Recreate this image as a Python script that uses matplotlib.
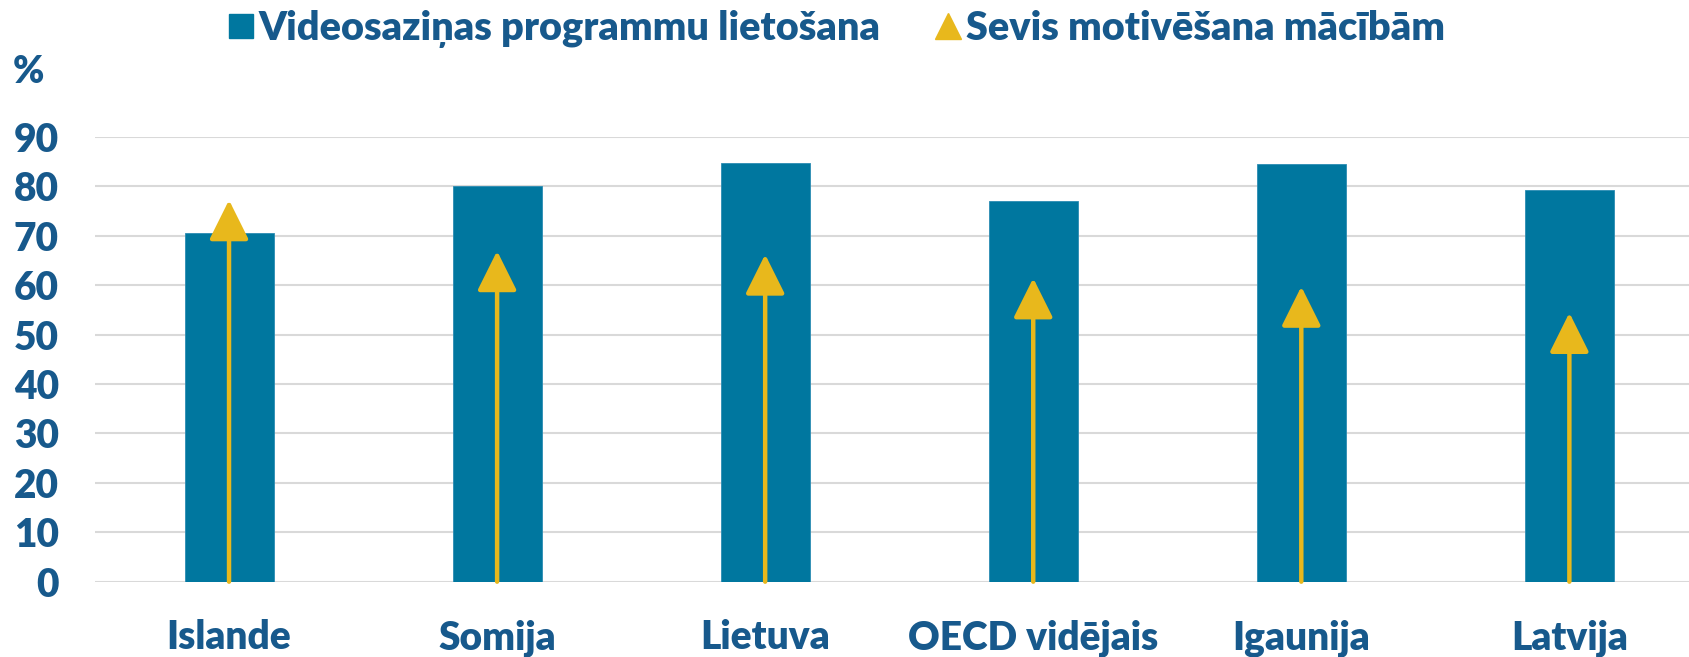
import matplotlib
matplotlib.use("Agg")
import matplotlib.pyplot as plt
from matplotlib.lines import Line2D

# data
countries = ["Islande", "Somija", "Lietuva", "OECD vidējais", "Igaunija", "Latvija"]
video_apps = [70.6, 80.0, 84.7, 77.0, 84.5, 79.3]
self_motivation = [77.2, 66.9, 66.2, 61.4, 59.7, 54.4]
yticks = [0, 10, 20, 30, 40, 50, 60, 70, 80, 90]

BAR = "#00779F"
ARROW = "#E8B81C"
TEXT = "#17598C"
GRID = "#D9D9D9"
WEIGHT = "heavy"

plt.rcParams["font.family"] = ["Lato", "DejaVu Sans"]
plt.rcParams["font.weight"] = WEIGHT

fig = plt.figure(figsize=(16.9, 6.57), dpi=100)
ax = fig.add_axes([95 / 1690, 1 - 581.7 / 657, 1 - 95 / 1690, (581.7 - 136.8) / 657])

x = list(range(len(countries)))
ax.bar(x, video_apps, width=0.332, color=BAR, edgecolor="#2B8CB3", linewidth=0.6, zorder=2)

for xi, v in zip(x, self_motivation):
    ax.annotate("", xy=(xi, v), xytext=(xi, 0),
                arrowprops=dict(arrowstyle="-|>,head_length=2.45,head_width=1.22",
                                color=ARROW, lw=3.2, shrinkA=0, shrinkB=0,
                                mutation_scale=10),
                zorder=3)

ax.set_xlim(-0.5, 5.45)
ax.set_ylim(0, 90)
ax.set_yticks(yticks)
ax.set_xticks(x)
ax.set_xticklabels(countries)
ax.yaxis.grid(True, color=GRID, lw=1.5, zorder=0)
ax.set_axisbelow(True)
for s in ax.spines.values():
    s.set_visible(False)
ax.tick_params(axis="both", length=0, colors=TEXT)
ax.tick_params(axis="x", pad=27, labelsize=28)
ax.tick_params(axis="y", pad=26, labelsize=28)
for lbl in ax.get_xticklabels() + ax.get_yticklabels():
    lbl.set_fontweight(WEIGHT)

fig.text(13 / 1690, 1 - 72 / 657, "%", ha="left", va="center",
         fontsize=27, fontweight=WEIGHT, color=TEXT)

handles = [
    Line2D([], [], ls="none", marker="s", ms=17, color=BAR),
    Line2D([], [], ls="none", marker="^", ms=19, color=ARROW),
]
labels = ["Videosaziņas programmu lietošana", "Sevis motivēšana mācībām"]
fig.legend(handles, labels, loc="center", bbox_to_anchor=(0.494, 1 - 29 / 657),
           ncol=2, frameon=False, handlelength=0.8, handletextpad=0.05,
           columnspacing=1.3, labelcolor=TEXT,
           prop=dict(family="Lato", weight=WEIGHT, size=28.5))

fig.savefig("out.png", dpi=100)
